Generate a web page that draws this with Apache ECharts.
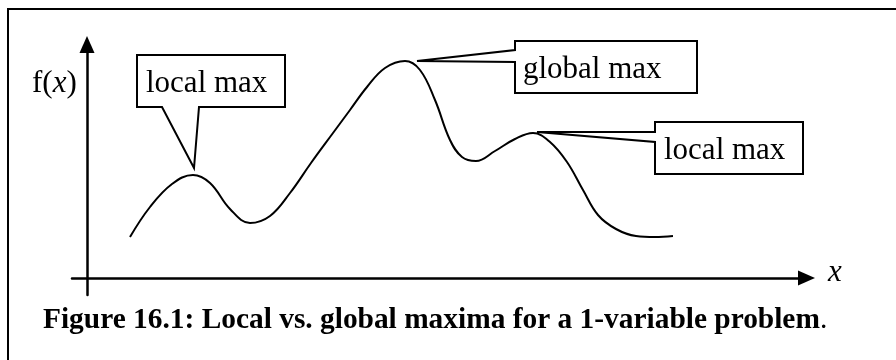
<!DOCTYPE html>
<html>
<head>
<meta charset="utf-8">
<script src="https://cdn.jsdelivr.net/npm/echarts@6/dist/echarts.min.js"></script>
<style>
html,body{margin:0;padding:0;background:#fff;}
#chart{width:896px;height:360px;}
</style>
</head>
<body>
<div id="chart"></div>
<script>
// Curve sample points (arbitrary units, origin at axes crossing)
const xValues = [43, 63, 85, 106, 123, 143, 163, 183, 203, 224, 246, 263, 280, 298, 318, 333, 348, 363, 375, 389, 408, 428, 446, 463, 480, 496, 511, 529, 549, 568, 586];
const fValues = [41, 71, 94, 103, 95, 69, 55, 62, 85, 115, 145, 168, 191, 210, 217, 208, 178, 138, 121, 117, 127, 139, 145, 136, 116, 88, 63, 49, 42, 41, 42];
// Annotated extrema: label text and index of the point in the arrays above
const annotationLabels = ['local max', 'global max', 'local max'];
const annotationIndex = [3, 14, 22];
const yAxisTitle = 'f(x)';
const xAxisTitle = 'x';
const captionText = 'Figure 16.1: Local vs. global maxima for a 1-variable problem';

const chart = echarts.init(document.getElementById('chart'), null, {renderer: 'canvas'});
const SERIF = '"Liberation Serif", "Times New Roman", serif';

const seriesData = xValues.map((x, i) => [x, fValues[i]]);

chart.setOption({
  animation: false,
  backgroundColor: '#fff',
  grid: {left: 72, right: 89.5, top: 44.5, bottom: 65, containLabel: false},
  xAxis: {
    type: 'value', min: -15, max: 719.5,
    axisLine: {onZero: true, symbol: ['none', 'triangle'], symbolSize: [15, 17],
      lineStyle: {color: '#000', width: 2.5}},
    axisTick: {show: false}, axisLabel: {show: false}, splitLine: {show: false}
  },
  yAxis: {
    type: 'value', min: -17, max: 233.5,
    axisLine: {onZero: true, symbol: ['none', 'triangle'], symbolSize: [15, 17],
      lineStyle: {color: '#000', width: 2.5}},
    axisTick: {show: false}, axisLabel: {show: false}, splitLine: {show: false}
  },
  series: [{
    type: 'line', data: seriesData, smooth: 0.4, symbol: 'none',
    lineStyle: {color: '#000', width: 2}
  }]
});

// Callout layout (box rectangles and tail attachment), tips computed from data
const boxes = [
  {x0: 137, y0: 55, x1: 285, y1: 107, side: 'bottom', a: 162, b: 199, tipDx: 1, tipDy: -7, tx: 146, ty: 83.5},
  {x0: 515, y0: 41, x1: 697, y1: 93, side: 'left', a: 50, b: 62, tipDx: 12, tipDy: 0, tx: 523, ty: 69.5},
  {x0: 655, y0: 122, x1: 803, y1: 174, side: 'left', a: 132, b: 142, tipDx: 4, tipDy: -1, tx: 664, ty: 150.5}
];

const graphics = [];
graphics.push({
  type: 'polyline', silent: true,
  shape: {points: [[8, 360], [8, 9], [896, 9]]},
  style: {stroke: '#000', lineWidth: 2, fill: null}
});

boxes.forEach((b, k) => {
  const idx = annotationIndex[k];
  const p = chart.convertToPixel({gridIndex: 0}, [xValues[idx], fValues[idx]]);
  const tip = [p[0] + b.tipDx, p[1] + b.tipDy];
  let pts;
  if (b.side === 'bottom') {
    pts = [[b.x0, b.y0], [b.x1, b.y0], [b.x1, b.y1], [b.b, b.y1], tip, [b.a, b.y1], [b.x0, b.y1]];
  } else {
    pts = [[b.x0, b.y0], [b.x1, b.y0], [b.x1, b.y1], [b.x0, b.y1], [b.x0, b.b], tip, [b.x0, b.a]];
  }
  graphics.push({
    type: 'polygon', silent: true, z: 10,
    shape: {points: pts},
    style: {fill: '#fff', stroke: '#000', lineWidth: 2, lineJoin: 'miter'}
  });
  graphics.push({
    type: 'text', silent: true, z: 11, x: b.tx, y: b.ty,
    style: {text: annotationLabels[k], font: '31px ' + SERIF, fill: '#000',
      align: 'left', verticalAlign: 'middle', textAlign: 'left', textVerticalAlign: 'middle'}
  });
});

// y axis title f(x) with italic x
graphics.push({
  type: 'text', silent: true, x: 32, y: 83.5,
  style: {
    text: '{r|f(}{i|' + yAxisTitle.slice(2, 3) + '}{r|)}',
    align: 'left', verticalAlign: 'middle', textAlign: 'left', textVerticalAlign: 'middle',
    rich: {
      r: {font: '31px ' + SERIF, fill: '#000', lineHeight: 31},
      i: {font: 'italic 31px ' + SERIF, fill: '#000', lineHeight: 31}
    }
  }
});
// x axis title
graphics.push({
  type: 'text', silent: true, x: 828, y: 272.5,
  style: {text: xAxisTitle, font: 'italic 31px ' + SERIF, fill: '#000',
    align: 'left', verticalAlign: 'middle', textAlign: 'left', textVerticalAlign: 'middle'}
});
// caption
graphics.push({
  type: 'text', silent: true, x: 43, y: 320,
  style: {
    text: '{b|' + captionText + '}{r|.}',
    align: 'left', verticalAlign: 'middle', textAlign: 'left', textVerticalAlign: 'middle',
    rich: {
      b: {font: 'bold 29.4px ' + SERIF, fill: '#000', lineHeight: 29},
      r: {font: '29.4px ' + SERIF, fill: '#000', lineHeight: 29}
    }
  }
});

chart.setOption({graphic: graphics});
</script>
</body>
</html>
